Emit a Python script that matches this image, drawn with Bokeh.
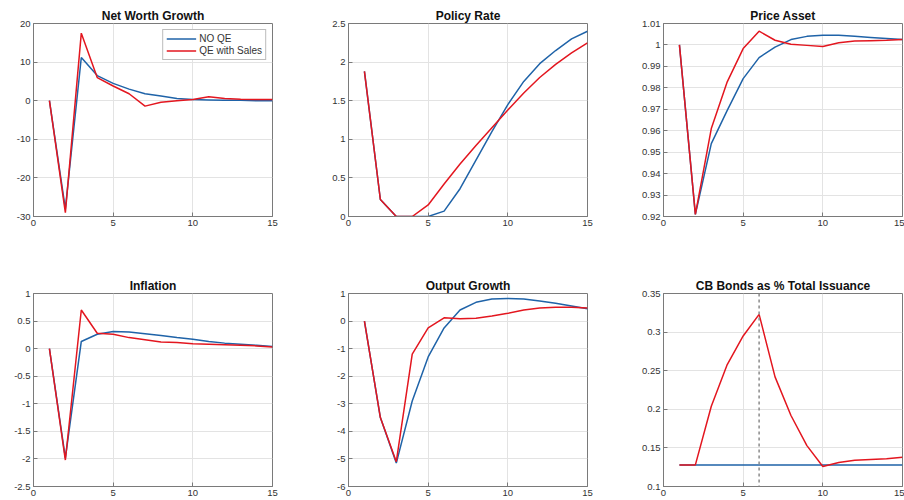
from bokeh.plotting import figure
from bokeh.layouts import column, row
from bokeh.models import FixedTicker, Range1d, Span, Legend, LegendItem
from bokeh.embed import file_html
from bokeh.resources import INLINE

periods = list(range(1, 16))
x_ticks = [0, 5, 10, 15]

# Net Worth Growth
nw_noqe = [0, -28, 11.2, 6.5, 4.5, 3.0, 1.8, 1.2, 0.6, 0.3, 0.2, 0.1, 0.1, 0.0, 0.0]
nw_qe = [0, -29, 17.5, 6.0, 3.8, 1.8, -1.4, -0.4, 0.0, 0.3, 1.0, 0.6, 0.4, 0.3, 0.3]
nw_ticks = [-30, -20, -10, 0, 10, 20]
nw_labels = ["-30", "-20", "-10", "0", "10", "20"]

# Policy Rate
pr_noqe = [1.88, 0.22, 0.0, 0.0, 0.0, 0.07, 0.36, 0.73, 1.1, 1.45, 1.75, 1.98, 2.15, 2.3, 2.4]
pr_qe = [1.88, 0.22, 0.0, 0.0, 0.15, 0.42, 0.68, 0.92, 1.15, 1.38, 1.6, 1.8, 1.97, 2.12, 2.25]
pr_ticks = [0, 0.5, 1, 1.5, 2, 2.5]
pr_labels = ["0", "0.5", "1", "1.5", "2", "2.5"]

# Price Asset
pa_noqe = [1.0, 0.921, 0.954, 0.9695, 0.9843, 0.9941, 0.999, 1.0025, 1.004, 1.0045, 1.0045, 1.004, 1.0035, 1.003, 1.0025]
pa_qe = [1.0, 0.921, 0.961, 0.9828, 0.9983, 1.0064, 1.0022, 1.0003, 0.9998, 0.9993, 1.001, 1.0018, 1.002, 1.0022, 1.0025]
pa_ticks = [0.92, 0.93, 0.94, 0.95, 0.96, 0.97, 0.98, 0.99, 1.0, 1.01]
pa_labels = ["0.92", "0.93", "0.94", "0.95", "0.96", "0.97", "0.98", "0.99", "1", "1.01"]

# Inflation
inf_noqe = [0, -1.98, 0.13, 0.26, 0.31, 0.3, 0.27, 0.24, 0.2, 0.17, 0.13, 0.1, 0.08, 0.06, 0.04]
inf_qe = [0, -2.02, 0.7, 0.28, 0.26, 0.2, 0.16, 0.12, 0.11, 0.09, 0.08, 0.07, 0.06, 0.05, 0.03]
inf_ticks = [-2.5, -2, -1.5, -1, -0.5, 0, 0.5, 1]
inf_labels = ["-2.5", "-2", "-1.5", "-1", "-0.5", "0", "0.5", "1"]

# Output Growth
og_noqe = [0, -3.5, -5.15, -2.9, -1.3, -0.25, 0.4, 0.68, 0.8, 0.82, 0.8, 0.73, 0.65, 0.55, 0.45]
og_qe = [0, -3.5, -5.1, -1.2, -0.25, 0.12, 0.08, 0.1, 0.18, 0.28, 0.4, 0.47, 0.5, 0.5, 0.47]
og_ticks = [-6, -5, -4, -3, -2, -1, 0, 1]
og_labels = ["-6", "-5", "-4", "-3", "-2", "-1", "0", "1"]

# CB Bonds as % Total Issuance
cb_noqe = [0.128] * 15
cb_qe = [0.128, 0.128, 0.204, 0.258, 0.295, 0.323, 0.242, 0.192, 0.153, 0.126, 0.131, 0.134, 0.135, 0.136, 0.138]
cb_ticks = [0.1, 0.15, 0.2, 0.25, 0.3, 0.35]
cb_labels = ["0.1", "0.15", "0.2", "0.25", "0.3", "0.35"]
sales_start = 6

FONT = "Liberation Sans"
BLUE = "#1f63a8"
RED = "#e3161f"
TXT = "#333333"


def make(title, yticks, ylabels, blue, red, width, height, left, right, top, bottom):
    p = figure(width=width, height=height, output_backend="svg", toolbar_location=None,
               x_range=Range1d(0, 15), y_range=Range1d(yticks[0], yticks[-1]),
               min_border_left=left, min_border_right=right, min_border_top=top,
               min_border_bottom=bottom)
    p.title.text = title
    p.title.align = "center"
    p.title.text_font = FONT
    p.title.text_font_size = "12px"
    p.title.text_font_style = "bold"
    p.title.text_color = "#111111"
    p.title.standoff = 2
    p.title.offset = 0
    p.outline_line_color = "#7a7a7a"
    p.outline_line_width = 1
    p.background_fill_color = "white"
    p.border_fill_color = "white"
    for ax in (p.xaxis[0], p.yaxis[0]):
        ax.axis_line_color = "#7a7a7a"
        ax.major_tick_in = 4
        ax.major_tick_out = 0
        ax.major_tick_line_color = "#7a7a7a"
        ax.minor_tick_line_color = None
        ax.major_label_text_font = FONT
        ax.major_label_text_font_size = "9.5px"
        ax.major_label_text_color = TXT
        ax.major_label_standoff = 3
    p.xaxis.ticker = FixedTicker(ticks=x_ticks)
    p.xaxis.major_label_overrides = {t: str(t) for t in x_ticks}
    p.yaxis.ticker = FixedTicker(ticks=yticks)
    p.yaxis.major_label_overrides = dict(zip(yticks, ylabels))
    p.xgrid.ticker = FixedTicker(ticks=x_ticks)
    p.ygrid.ticker = FixedTicker(ticks=yticks)
    p.grid.grid_line_color = "#e3e3e3"
    p.grid.grid_line_width = 1
    rb = p.line(periods, blue, line_color=BLUE, line_width=1.5)
    rr = p.line(periods, red, line_color=RED, line_width=1.5)
    return p, rb, rr


H1, H2 = 275, 225
T1, B1 = 23, 59
T2, B2 = 17, 14

p1, b1, r1 = make("Net Worth Growth", nw_ticks, nw_labels, nw_noqe, nw_qe, 323, H1, 33, 51, T1, B1)
legend = Legend(items=[LegendItem(label="NO QE", renderers=[b1]),
                       LegendItem(label="QE with Sales", renderers=[r1])],
                location="top_right", margin=0, padding=3, spacing=1,
                glyph_width=30, glyph_height=11, label_height=11,
                label_text_font=FONT, label_text_font_size="10px", label_text_color=TXT,
                label_standoff=3, border_line_color="#7a7a7a",
                background_fill_color="white", background_fill_alpha=1)
p1.add_layout(legend)
legend.margin = 6

p2, _, _ = make("Policy Rate", pr_ticks, pr_labels, pr_noqe, pr_qe, 315, H1, 25, 51, T1, B1)
p3, _, _ = make("Price Asset", pa_ticks, pa_labels, pa_noqe, pa_qe, 266, H1, 25, 2, T1, B1)
p4, _, _ = make("Inflation", inf_ticks, inf_labels, inf_noqe, inf_qe, 323, H2, 33, 51, T2, B2)
p5, _, _ = make("Output Growth", og_ticks, og_labels, og_noqe, og_qe, 315, H2, 25, 51, T2, B2)
p6, _, _ = make("CB Bonds as % Total Issuance", cb_ticks, cb_labels, cb_noqe, cb_qe, 266, H2, 25, 2, T2, B2)
p6.add_layout(Span(location=sales_start, dimension="height", line_color="#8a8a8a",
                   line_dash="3 3", line_width=1.5))

layout = column(row(p1, p2, p3), row(p4, p5, p6))
open("out.html", "w").write(file_html(layout, INLINE))
